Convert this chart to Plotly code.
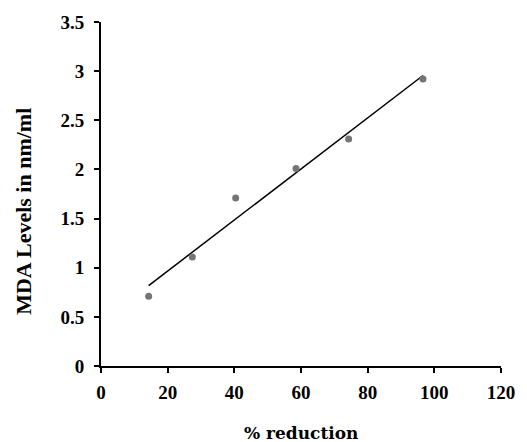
import numpy as np
import plotly.graph_objects as go

reduction = [14.3, 27.4, 40.4, 58.5, 74.3, 96.6]
mda = [0.71, 1.11, 1.71, 2.01, 2.31, 2.92]

x_ticks = [0, 20, 40, 60, 80, 100, 120]
y_ticks = [0, 0.5, 1, 1.5, 2, 2.5, 3, 3.5]
y_ticklabels = ["0", "0.5", "1", "1.5", "2", "2.5", "3", "3.5"]

slope, intercept = np.polyfit(reduction, mda, 1)
trend_x = [min(reduction), max(reduction)]
trend_y = [slope * v + intercept for v in trend_x]

tickfont = dict(family="Liberation Serif", size=19, color="black", weight="bold")

fig = go.Figure()
fig.add_trace(go.Scatter(x=trend_x, y=trend_y, mode="lines",
                         line=dict(color="black", width=1.5), showlegend=False))
fig.add_trace(go.Scatter(x=reduction, y=mda, mode="markers",
                         marker=dict(color="#757575", size=7), showlegend=False))

fig.update_layout(
    width=527, height=442,
    margin=dict(l=101, r=21, t=20, b=76),
    paper_bgcolor="white", plot_bgcolor="white",
    font=dict(family="Liberation Serif", color="black"),
)
fig.update_xaxes(
    range=[0, 120], tickvals=x_ticks, ticktext=[str(v) for v in x_ticks],
    showline=True, linecolor="black", linewidth=2,
    ticks="outside", ticklen=5, tickwidth=2, tickcolor="black",
    showgrid=False, zeroline=False, tickfont=tickfont, ticklabelstandoff=3,
)
fig.update_yaxes(
    range=[0, 3.5], tickvals=y_ticks, ticktext=y_ticklabels,
    showline=True, linecolor="black", linewidth=2,
    ticks="outside", ticklen=5, tickwidth=2, tickcolor="black",
    showgrid=False, zeroline=False, tickfont=tickfont, ticklabelstandoff=6,
)
fig.add_annotation(
    text="<b>% reduction</b>", xref="paper", yref="paper",
    x=(304 - 101) / 405, y=-(433 - 366) / 346, xanchor="center", yanchor="middle",
    showarrow=False, font=dict(family="DejaVu Serif", size=17, color="black"),
)
fig.add_annotation(
    text="<b>MDA Levels in nm/ml</b>", xref="paper", yref="paper",
    x=-(101 - 23) / 405, y=(366 - 210) / 346, xanchor="center", yanchor="middle",
    textangle=-90, showarrow=False,
    font=dict(family="Liberation Serif", size=22, color="black"),
)

fig.write_html("out.html")
